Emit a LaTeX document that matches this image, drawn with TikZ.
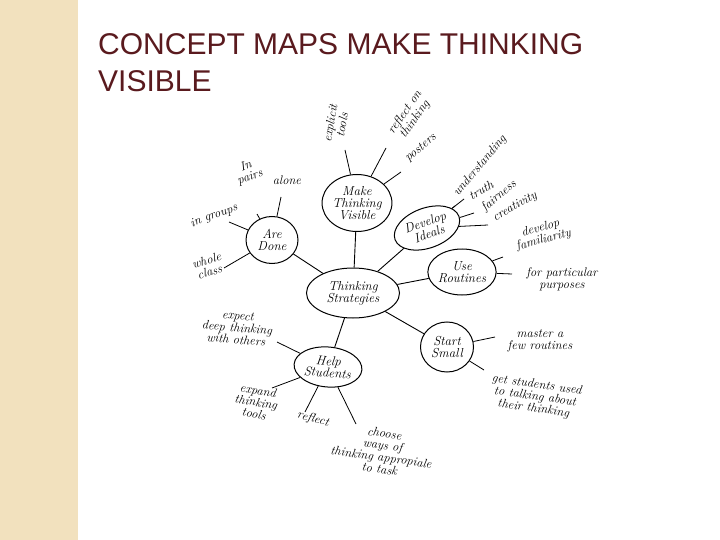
\documentclass[tikz,border=0pt]{standalone}
\usepackage{fontspec}
\setsansfont{Liberation Sans}
\usetikzlibrary{shapes.geometric}
\definecolor{titlecol}{HTML}{5A1A1E}
\definecolor{stripe}{HTML}{F2E1BE}
\tikzset{
  bubble/.style={draw, ellipse, line width=1pt, align=center, inner sep=0pt, font=\itshape\fontsize{13}{12}\selectfont},
  lab/.style={align=center, inner sep=1pt, font=\itshape\fontsize{12.5}{12}\selectfont},
  con/.style={line width=0.9pt},
  br/.style={line width=0.8pt}
}
\begin{document}
\begin{tikzpicture}[x=1pt,y=-1pt]
\useasboundingbox (0,0) rectangle (720,540);
\fill[white] (0,0) rectangle (720,540);
\fill[stripe] (0,0) rectangle (78,540);
\node[anchor=north west, align=left, text=titlecol, font=\sffamily\fontsize{30}{37}\selectfont, inner sep=0pt] (title) at (98,33) {CONCEPT MAPS MAKE THINKING\\VISIBLE};

% bubbles
\node[bubble, minimum width=93pt, minimum height=50pt] (ts) at (353,293) {Thinking\\Strategies};
\node[bubble, minimum width=58pt, minimum height=57pt] (mtv) at (357,203) {Make\\Thinking\\Visible};
\node[bubble, minimum width=52pt, minimum height=47pt] (ad) at (272,240) {Are\\Done};
\node[bubble, minimum width=68pt, minimum height=40pt, rotate=20] (di) at (427,228) {Develop\\Ideals};
\node[bubble, minimum width=64pt, minimum height=46pt] (ur) at (462,272) {Use\\Routines};
\node[bubble, minimum width=53pt, minimum height=50pt] (ss) at (447,347) {Start\\Small};
\node[bubble, minimum width=68pt, minimum height=40pt, rotate=-5] (hs) at (328,367) {Help\\Students};

\draw[con] (ts) -- (mtv);
\draw[con] (ts) -- (ad);
\draw[con] (ts) -- (di);
\draw[con] (ts) -- (ur);
\draw[con] (ts) -- (ss);
\draw[con] (ts) -- (hs);

% labels
\node[lab, rotate=80] (l1) at (336,124) {explicit\\tools};
\node[lab, rotate=55] (l2) at (410,116) {reflect on\\thinking};
\node[lab, rotate=40] (l3) at (421,148) {posters};
\node[lab, rotate=20] (l4) at (248,172) {In\\pairs};
\node[lab] (l5) at (287,180) {alone};
\node[lab, rotate=20] (l6) at (214,216) {in groups};
\node[lab, rotate=15] (l7) at (208,266) {whole\\class};
\node[lab, rotate=50] (l8) at (480,166) {understanding};
\node[lab, rotate=30] (l9) at (481,190) {truth};
\node[lab, rotate=40] (l10) at (499,196) {fairness};
\node[lab, rotate=30] (l11) at (515,207) {creativity};
\node[lab, rotate=15] (l12) at (542,234) {develop\\familiarity};
\node[lab] (l13) at (562,279) {for particular\\purposes};
\node[lab] (l14) at (540,341) {master a\\few routines};
\node[lab, rotate=-8] (l15) at (535,397) {get students used\\to talking about\\their thinking};
\node[lab, rotate=-5] (l16) at (237,328) {expect\\deep thinking\\with others};
\node[lab, rotate=-10] (l17) at (256,402) {expand\\thinking\\tools};
\node[lab, rotate=-15] (l18) at (313,419) {reflect};
\node[lab, rotate=-8] (l19) at (382,451) {choose\\ways of\\thinking appropiale\\to task};

% branch ends
\coordinate (e1) at (345,150);
\coordinate (e2) at (386,148);
\coordinate (e3) at (401,172);
\coordinate (e4) at (257,214);
\coordinate (e5) at (281,197);
\coordinate (e6) at (229,222);
\coordinate (e7) at (224,268);
\coordinate (e8) at (455,206);
\coordinate (e9) at (464,199);
\coordinate (e10) at (474,213);
\coordinate (e11) at (488,225);
\coordinate (e12) at (503,257);
\coordinate (e13) at (512,274);
\coordinate (e14) at (495,337);
\coordinate (e15) at (484,370);
\coordinate (e16) at (277,342);
\coordinate (e17) at (272,388);
\coordinate (e18) at (305,412);
\coordinate (e19) at (356,424);

\draw[br] (mtv) -- (e1);
\draw[br] (mtv) -- (e2);
\draw[br] (mtv) -- (e3);
\draw[br] (ad) -- (e4);
\draw[br] (ad) -- (e5);
\draw[br] (ad) -- (e6);
\draw[br] (ad) -- (e7);
\draw[br] (di) -- (e8);
\draw[br] (di) -- (e9);
\draw[br] (di) -- (e10);
\draw[br] (di) -- (e11);
\draw[br] (ur) -- (e12);
\draw[br] (ur) -- (e13);
\draw[br] (ss) -- (e14);
\draw[br] (ss) -- (e15);
\draw[br] (hs) -- (e16);
\draw[br] (hs) -- (e17);
\draw[br] (hs) -- (e18);
\draw[br] (hs) -- (e19);
\end{tikzpicture}
\end{document}
